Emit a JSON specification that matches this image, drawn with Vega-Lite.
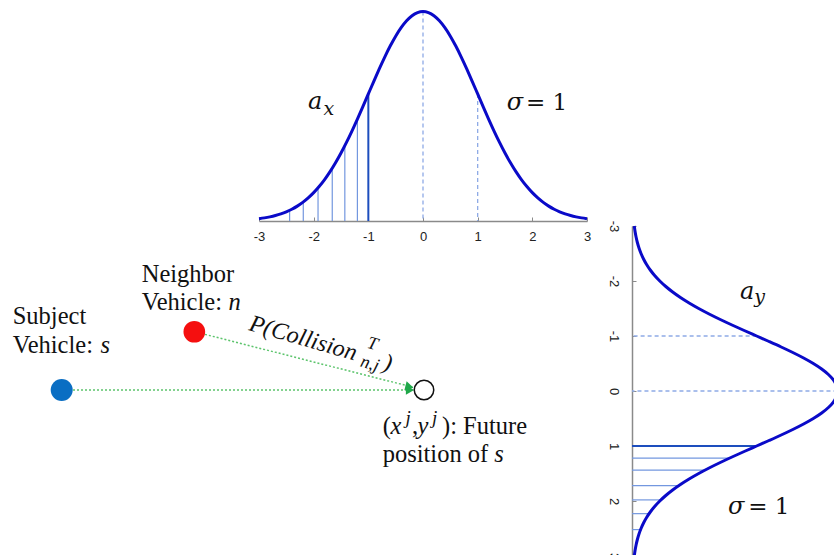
{
  "$schema": "https://vega.github.io/schema/vega-lite/v6.json",
  "width": 834,
  "height": 555,
  "autosize": {"type": "none"},
  "padding": 0,
  "background": "white",
  "config": {"view": {"stroke": null}},
  "datasets": {
    "curve": [
      {"z": -3.0, "pdf": 0.00443}, {"z": -2.9, "pdf": 0.00595}, {"z": -2.8, "pdf": 0.00792}, {"z": -2.7, "pdf": 0.01042},
      {"z": -2.6, "pdf": 0.01358}, {"z": -2.5, "pdf": 0.01753}, {"z": -2.4, "pdf": 0.02239}, {"z": -2.3, "pdf": 0.02833},
      {"z": -2.2, "pdf": 0.03547}, {"z": -2.1, "pdf": 0.04398}, {"z": -2.0, "pdf": 0.05399}, {"z": -1.9, "pdf": 0.06562},
      {"z": -1.8, "pdf": 0.07895}, {"z": -1.7, "pdf": 0.09405}, {"z": -1.6, "pdf": 0.11092}, {"z": -1.5, "pdf": 0.12952},
      {"z": -1.4, "pdf": 0.14973}, {"z": -1.3, "pdf": 0.17137}, {"z": -1.2, "pdf": 0.19419}, {"z": -1.1, "pdf": 0.21785},
      {"z": -1.0, "pdf": 0.24197}, {"z": -0.9, "pdf": 0.26609}, {"z": -0.8, "pdf": 0.28969}, {"z": -0.7, "pdf": 0.31225},
      {"z": -0.6, "pdf": 0.33322}, {"z": -0.5, "pdf": 0.35207}, {"z": -0.4, "pdf": 0.36827}, {"z": -0.3, "pdf": 0.38139},
      {"z": -0.2, "pdf": 0.39104}, {"z": -0.1, "pdf": 0.39695}, {"z": 0.0, "pdf": 0.39894},
      {"z": 0.1, "pdf": 0.39695}, {"z": 0.2, "pdf": 0.39104}, {"z": 0.3, "pdf": 0.38139}, {"z": 0.4, "pdf": 0.36827},
      {"z": 0.5, "pdf": 0.35207}, {"z": 0.6, "pdf": 0.33322}, {"z": 0.7, "pdf": 0.31225}, {"z": 0.8, "pdf": 0.28969},
      {"z": 0.9, "pdf": 0.26609}, {"z": 1.0, "pdf": 0.24197}, {"z": 1.1, "pdf": 0.21785}, {"z": 1.2, "pdf": 0.19419},
      {"z": 1.3, "pdf": 0.17137}, {"z": 1.4, "pdf": 0.14973}, {"z": 1.5, "pdf": 0.12952}, {"z": 1.6, "pdf": 0.11092},
      {"z": 1.7, "pdf": 0.09405}, {"z": 1.8, "pdf": 0.07895}, {"z": 1.9, "pdf": 0.06562}, {"z": 2.0, "pdf": 0.05399},
      {"z": 2.1, "pdf": 0.04398}, {"z": 2.2, "pdf": 0.03547}, {"z": 2.3, "pdf": 0.02833}, {"z": 2.4, "pdf": 0.02239},
      {"z": 2.5, "pdf": 0.01753}, {"z": 2.6, "pdf": 0.01358}, {"z": 2.7, "pdf": 0.01042}, {"z": 2.8, "pdf": 0.00792},
      {"z": 2.9, "pdf": 0.00595}, {"z": 3.0, "pdf": 0.00443}
    ]
  },
  "layer": [
    {
      "data": {"values": [{"z": -1.2, "pdf": 0.19419}, {"z": -1.43, "pdf": 0.14351}, {"z": -1.66, "pdf": 0.10058}, {"z": -1.92, "pdf": 0.06316}, {"z": -2.19, "pdf": 0.03626}, {"z": -2.44, "pdf": 0.02033}]},
      "mark": {"type": "rule", "color": "#7397df", "strokeWidth": 1.2},
      "encoding": {
        "x": {"field": "z", "type": "quantitative", "scale": {"domain": [-3, 3], "range": [259, 587], "nice": false, "zero": false}, "axis": null},
        "y": {"field": "pdf", "type": "quantitative", "scale": {"domain": [0, 0.4], "range": [221, 11], "nice": false, "zero": false}, "axis": null},
        "y2": {"datum": 0}
      }
    },
    {
      "data": {"values": [{"z": -1.0, "pdf": 0.24197}]},
      "mark": {"type": "rule", "color": "#1d4dbd", "strokeWidth": 2},
      "encoding": {
        "x": {"field": "z", "type": "quantitative", "scale": {"domain": [-3, 3], "range": [259, 587], "nice": false, "zero": false}, "axis": null},
        "y": {"field": "pdf", "type": "quantitative", "scale": {"domain": [0, 0.4], "range": [221, 11], "nice": false, "zero": false}, "axis": null},
        "y2": {"datum": 0}
      }
    },
    {
      "data": {"values": [{"z": 0.0, "pdf": 0.39894}, {"z": 1.0, "pdf": 0.24197}]},
      "mark": {"type": "rule", "color": "#8eaae6", "strokeWidth": 1.3, "strokeDash": [4, 3]},
      "encoding": {
        "x": {"field": "z", "type": "quantitative", "scale": {"domain": [-3, 3], "range": [259, 587], "nice": false, "zero": false}, "axis": null},
        "y": {"field": "pdf", "type": "quantitative", "scale": {"domain": [0, 0.4], "range": [221, 11], "nice": false, "zero": false}, "axis": null},
        "y2": {"datum": 0}
      }
    },
    {
      "data": {"name": "curve"},
      "mark": {"type": "line", "color": "#0a0ac8", "strokeWidth": 3, "interpolate": "monotone"},
      "encoding": {
        "x": {"field": "z", "type": "quantitative", "scale": {"domain": [-3, 3], "range": [259, 587], "nice": false, "zero": false},
          "axis": {"orient": "bottom", "offset": -334, "values": [-3, -2, -1, 0, 1, 2, 3], "title": null, "grid": false,
            "domainColor": "#8a8a8a", "domainWidth": 1.5, "tickColor": "#8a8a8a", "tickSize": -4, "tickWidth": 1,
            "labelFont": "Liberation Sans", "labelFontSize": 13, "labelColor": "#222222", "labelPadding": 13,
            "labelFlush": false, "labelOverlap": false, "labelBound": false, "zindex": 0,
            "labelExpr": "datum.value < 0 ? '-' + abs(datum.value) : '' + datum.value"}},
        "y": {"field": "pdf", "type": "quantitative", "scale": {"domain": [0, 0.4], "range": [221, 11], "nice": false, "zero": false}, "axis": null}
      }
    },
    {
      "data": {"values": [{"t": "a", "z": -2.104, "pdf": 0.2133}, {"t": "σ", "z": 1.531, "pdf": 0.2114}]},
      "mark": {"type": "text", "font": "DejaVu Serif", "fontStyle": "italic", "fontSize": 24, "align": "left", "baseline": "alphabetic", "color": "#111111"},
      "encoding": {
        "x": {"field": "z", "type": "quantitative", "scale": {"domain": [-3, 3], "range": [259, 587], "nice": false, "zero": false}, "axis": null},
        "y": {"field": "pdf", "type": "quantitative", "scale": {"domain": [0, 0.4], "range": [221, 11], "nice": false, "zero": false}, "axis": null},
        "text": {"field": "t"}
      }
    },
    {
      "data": {"values": [{"t": "x", "z": -1.82, "pdf": 0.2019}]},
      "mark": {"type": "text", "font": "DejaVu Serif", "fontStyle": "italic", "fontSize": 19, "align": "left", "baseline": "alphabetic", "color": "#111111"},
      "encoding": {
        "x": {"field": "z", "type": "quantitative", "scale": {"domain": [-3, 3], "range": [259, 587], "nice": false, "zero": false}, "axis": null},
        "y": {"field": "pdf", "type": "quantitative", "scale": {"domain": [0, 0.4], "range": [221, 11], "nice": false, "zero": false}, "axis": null},
        "text": {"field": "t"}
      }
    },
    {
      "data": {"values": [{"t": "= 1", "z": 1.884, "pdf": 0.2114}]},
      "mark": {"type": "text", "font": "DejaVu Serif", "fontSize": 23, "align": "left", "baseline": "alphabetic", "color": "#111111"},
      "encoding": {
        "x": {"field": "z", "type": "quantitative", "scale": {"domain": [-3, 3], "range": [259, 587], "nice": false, "zero": false}, "axis": null},
        "y": {"field": "pdf", "type": "quantitative", "scale": {"domain": [0, 0.4], "range": [221, 11], "nice": false, "zero": false}, "axis": null},
        "text": {"field": "t"}
      }
    },
    {
      "data": {"values": [{"z": 1.22, "pdf": 0.18953}, {"z": 1.44, "pdf": 0.14146}, {"z": 1.72, "pdf": 0.09088}, {"z": 1.98, "pdf": 0.05618}, {"z": 2.23, "pdf": 0.0332}, {"z": 2.52, "pdf": 0.01667}]},
      "mark": {"type": "rule", "color": "#7397df", "strokeWidth": 1.2},
      "encoding": {
        "y": {"field": "z", "type": "quantitative", "scale": {"domain": [-3, 3], "range": [226, 556], "nice": false, "zero": false}, "axis": null},
        "x": {"field": "pdf", "type": "quantitative", "scale": {"domain": [0, 0.4], "range": [632, 838], "nice": false, "zero": false}, "axis": null},
        "x2": {"datum": 0}
      }
    },
    {
      "data": {"values": [{"z": 1.0, "pdf": 0.24197}]},
      "mark": {"type": "rule", "color": "#1d4dbd", "strokeWidth": 2},
      "encoding": {
        "y": {"field": "z", "type": "quantitative", "scale": {"domain": [-3, 3], "range": [226, 556], "nice": false, "zero": false}, "axis": null},
        "x": {"field": "pdf", "type": "quantitative", "scale": {"domain": [0, 0.4], "range": [632, 838], "nice": false, "zero": false}, "axis": null},
        "x2": {"datum": 0}
      }
    },
    {
      "data": {"values": [{"z": -1.0, "pdf": 0.24197}, {"z": 0.0, "pdf": 0.39894}]},
      "mark": {"type": "rule", "color": "#8eaae6", "strokeWidth": 1.3, "strokeDash": [4, 3]},
      "encoding": {
        "y": {"field": "z", "type": "quantitative", "scale": {"domain": [-3, 3], "range": [226, 556], "nice": false, "zero": false}, "axis": null},
        "x": {"field": "pdf", "type": "quantitative", "scale": {"domain": [0, 0.4], "range": [632, 838], "nice": false, "zero": false}, "axis": null},
        "x2": {"datum": 0}
      }
    },
    {
      "data": {"name": "curve"},
      "mark": {"type": "line", "color": "#0a0ac8", "strokeWidth": 3, "interpolate": "catmull-rom"},
      "encoding": {
        "y": {"field": "z", "type": "quantitative", "scale": {"domain": [-3, 3], "range": [226, 556], "nice": false, "zero": false},
          "axis": {"orient": "left", "offset": -632, "values": [-3, -2, -1, 0, 1, 2, 3], "title": null, "grid": false,
            "domainColor": "#8a8a8a", "domainWidth": 1.5, "tickColor": "#8a8a8a", "tickSize": -4, "tickWidth": 1,
            "labelFont": "Liberation Sans", "labelFontSize": 13, "labelColor": "#222222", "labelPadding": 23,
            "labelAngle": 90, "labelAlign": "center", "labelBaseline": "middle",
            "labelFlush": false, "labelOverlap": false, "labelBound": false, "zindex": 0,
            "labelExpr": "datum.value < 0 ? '-' + abs(datum.value) : '' + datum.value"}},
        "x": {"field": "pdf", "type": "quantitative", "scale": {"domain": [0, 0.4], "range": [632, 838], "nice": false, "zero": false}, "axis": null},
        "order": {"field": "z", "type": "quantitative"}
      }
    },
    {
      "data": {"values": [{"t": "a", "z": -1.673, "pdf": 0.2097}, {"t": "σ", "z": 2.236, "pdf": 0.1864}]},
      "mark": {"type": "text", "font": "DejaVu Serif", "fontStyle": "italic", "fontSize": 24, "align": "left", "baseline": "alphabetic", "color": "#111111"},
      "encoding": {
        "y": {"field": "z", "type": "quantitative", "scale": {"domain": [-3, 3], "range": [226, 556], "nice": false, "zero": false}, "axis": null},
        "x": {"field": "pdf", "type": "quantitative", "scale": {"domain": [0, 0.4], "range": [632, 838], "nice": false, "zero": false}, "axis": null},
        "text": {"field": "t"}
      }
    },
    {
      "data": {"values": [{"t": "y", "z": -1.6, "pdf": 0.2375}]},
      "mark": {"type": "text", "font": "DejaVu Serif", "fontStyle": "italic", "fontSize": 19, "align": "left", "baseline": "alphabetic", "color": "#111111"},
      "encoding": {
        "y": {"field": "z", "type": "quantitative", "scale": {"domain": [-3, 3], "range": [226, 556], "nice": false, "zero": false}, "axis": null},
        "x": {"field": "pdf", "type": "quantitative", "scale": {"domain": [0, 0.4], "range": [632, 838], "nice": false, "zero": false}, "axis": null},
        "text": {"field": "t"}
      }
    },
    {
      "data": {"values": [{"t": "= 1", "z": 2.236, "pdf": 0.2258}]},
      "mark": {"type": "text", "font": "DejaVu Serif", "fontSize": 23, "align": "left", "baseline": "alphabetic", "color": "#111111"},
      "encoding": {
        "y": {"field": "z", "type": "quantitative", "scale": {"domain": [-3, 3], "range": [226, 556], "nice": false, "zero": false}, "axis": null},
        "x": {"field": "pdf", "type": "quantitative", "scale": {"domain": [0, 0.4], "range": [632, 838], "nice": false, "zero": false}, "axis": null},
        "text": {"field": "t"}
      }
    },
    {
      "data": {"values": [{"x": 8.753, "y": 29.73, "x2": 49.52, "y2": 29.73}, {"x": 24.58, "y": 39.75, "x2": 49.56, "y2": 30.22}]},
      "mark": {"type": "rule", "color": "#5cc46c", "strokeWidth": 1.5, "strokeDash": [2, 2]},
      "encoding": {
        "x": {"field": "x", "type": "quantitative", "scale": {"domain": [0, 100], "range": [0, 834], "nice": false, "zero": false}, "axis": null},
        "y": {"field": "y", "type": "quantitative", "scale": {"domain": [0, 100], "range": [555, 0], "nice": false, "zero": false}, "axis": null},
        "x2": {"field": "x2"},
        "y2": {"field": "y2"}
      }
    },
    {
      "data": {"values": [{"x": 49.16, "y": 29.73}]},
      "mark": {"type": "point", "shape": "triangle-right", "filled": true, "color": "#1fa84a", "size": 90, "opacity": 1},
      "encoding": {
        "x": {"field": "x", "type": "quantitative", "scale": {"domain": [0, 100], "range": [0, 834], "nice": false, "zero": false}, "axis": null},
        "y": {"field": "y", "type": "quantitative", "scale": {"domain": [0, 100], "range": [555, 0], "nice": false, "zero": false}, "axis": null}
      }
    },
    {
      "data": {"values": [{"x": 49.1, "y": 30.32}]},
      "mark": {"type": "point", "shape": "triangle-right", "filled": true, "color": "#1fa84a", "size": 90, "opacity": 1, "angle": 14},
      "encoding": {
        "x": {"field": "x", "type": "quantitative", "scale": {"domain": [0, 100], "range": [0, 834], "nice": false, "zero": false}, "axis": null},
        "y": {"field": "y", "type": "quantitative", "scale": {"domain": [0, 100], "range": [555, 0], "nice": false, "zero": false}, "axis": null}
      }
    },
    {
      "data": {"values": [{"vehicle": "Subject vehicle s", "x": 7.398, "y": 29.73}]},
      "mark": {"type": "point", "shape": "circle", "filled": true, "color": "#0a6ec3", "size": 484, "opacity": 1},
      "encoding": {
        "x": {"field": "x", "type": "quantitative", "scale": {"domain": [0, 100], "range": [0, 834], "nice": false, "zero": false}, "axis": null},
        "y": {"field": "y", "type": "quantitative", "scale": {"domain": [0, 100], "range": [555, 0], "nice": false, "zero": false}, "axis": null}
      }
    },
    {
      "data": {"values": [{"vehicle": "Neighbor vehicle n", "x": 23.3, "y": 40.23}]},
      "mark": {"type": "point", "shape": "circle", "filled": true, "color": "#f50f0f", "size": 470, "opacity": 1},
      "encoding": {
        "x": {"field": "x", "type": "quantitative", "scale": {"domain": [0, 100], "range": [0, 834], "nice": false, "zero": false}, "axis": null},
        "y": {"field": "y", "type": "quantitative", "scale": {"domain": [0, 100], "range": [555, 0], "nice": false, "zero": false}, "axis": null}
      }
    },
    {
      "data": {"values": [{"vehicle": "Future position of s", "x": 50.84, "y": 29.73}]},
      "mark": {"type": "point", "shape": "circle", "filled": false, "stroke": "#111111", "strokeWidth": 1.5, "size": 380, "opacity": 1},
      "encoding": {
        "x": {"field": "x", "type": "quantitative", "scale": {"domain": [0, 100], "range": [0, 834], "nice": false, "zero": false}, "axis": null},
        "y": {"field": "y", "type": "quantitative", "scale": {"domain": [0, 100], "range": [555, 0], "nice": false, "zero": false}, "axis": null}
      }
    },
    {
      "data": {"values": [
        {"t": "Subject", "x": 1.523, "y": 41.62}, {"t": "Vehicle:", "x": 1.523, "y": 36.4},
        {"t": "Neighbor", "x": 16.99, "y": 49.24}, {"t": "Vehicle:", "x": 16.99, "y": 44.14},
        {"t": "(", "x": 45.89, "y": 21.8}, {"t": ",", "x": 49.4, "y": 21.8}, {"t": "): Future", "x": 53.0, "y": 21.8},
        {"t": "position of", "x": 45.89, "y": 16.76}
      ]},
      "mark": {"type": "text", "font": "Liberation Serif", "fontSize": 24.5, "align": "left", "baseline": "alphabetic", "color": "#111111"},
      "encoding": {
        "x": {"field": "x", "type": "quantitative", "scale": {"domain": [0, 100], "range": [0, 834], "nice": false, "zero": false}, "axis": null},
        "y": {"field": "y", "type": "quantitative", "scale": {"domain": [0, 100], "range": [555, 0], "nice": false, "zero": false}, "axis": null},
        "text": {"field": "t"}
      }
    },
    {
      "data": {"values": [
        {"t": "s", "x": 12.05, "y": 36.4}, {"t": "n", "x": 27.4, "y": 44.14},
        {"t": "x", "x": 46.82, "y": 21.8}, {"t": "y", "x": 50.06, "y": 21.8}, {"t": "s", "x": 59.25, "y": 16.76}
      ]},
      "mark": {"type": "text", "font": "Liberation Serif", "fontStyle": "italic", "fontSize": 24.5, "align": "left", "baseline": "alphabetic", "color": "#111111"},
      "encoding": {
        "x": {"field": "x", "type": "quantitative", "scale": {"domain": [0, 100], "range": [0, 834], "nice": false, "zero": false}, "axis": null},
        "y": {"field": "y", "type": "quantitative", "scale": {"domain": [0, 100], "range": [555, 0], "nice": false, "zero": false}, "axis": null},
        "text": {"field": "t"}
      }
    },
    {
      "data": {"values": [{"t": "j", "x": 48.62, "y": 23.6}, {"t": "j", "x": 51.8, "y": 23.6}]},
      "mark": {"type": "text", "font": "Liberation Serif", "fontStyle": "italic", "fontSize": 19, "align": "left", "baseline": "alphabetic", "color": "#111111"},
      "encoding": {
        "x": {"field": "x", "type": "quantitative", "scale": {"domain": [0, 100], "range": [0, 834], "nice": false, "zero": false}, "axis": null},
        "y": {"field": "y", "type": "quantitative", "scale": {"domain": [0, 100], "range": [555, 0], "nice": false, "zero": false}, "axis": null},
        "text": {"field": "t"}
      }
    },
    {
      "data": {"values": [{"t": "P(Collision", "x": 29.74, "y": 40.54}, {"t": ")", "x": 45.8, "y": 33.5}]},
      "mark": {"type": "text", "font": "Liberation Serif", "fontStyle": "italic", "fontSize": 24, "align": "left", "baseline": "alphabetic", "angle": 16, "color": "#111111"},
      "encoding": {
        "x": {"field": "x", "type": "quantitative", "scale": {"domain": [0, 100], "range": [0, 834], "nice": false, "zero": false}, "axis": null},
        "y": {"field": "y", "type": "quantitative", "scale": {"domain": [0, 100], "range": [555, 0], "nice": false, "zero": false}, "axis": null},
        "text": {"field": "t"}
      }
    },
    {
      "data": {"values": [{"t": "T", "x": 43.9, "y": 37.4}, {"t": "n,j", "x": 43.1, "y": 34.0}]},
      "mark": {"type": "text", "font": "Liberation Serif", "fontStyle": "italic", "fontSize": 18, "align": "left", "baseline": "alphabetic", "angle": 16, "color": "#111111"},
      "encoding": {
        "x": {"field": "x", "type": "quantitative", "scale": {"domain": [0, 100], "range": [0, 834], "nice": false, "zero": false}, "axis": null},
        "y": {"field": "y", "type": "quantitative", "scale": {"domain": [0, 100], "range": [555, 0], "nice": false, "zero": false}, "axis": null},
        "text": {"field": "t"}
      }
    }
  ],
  "resolve": {"scale": {"x": "independent", "y": "independent"}, "axis": {"x": "independent", "y": "independent"}}
}
